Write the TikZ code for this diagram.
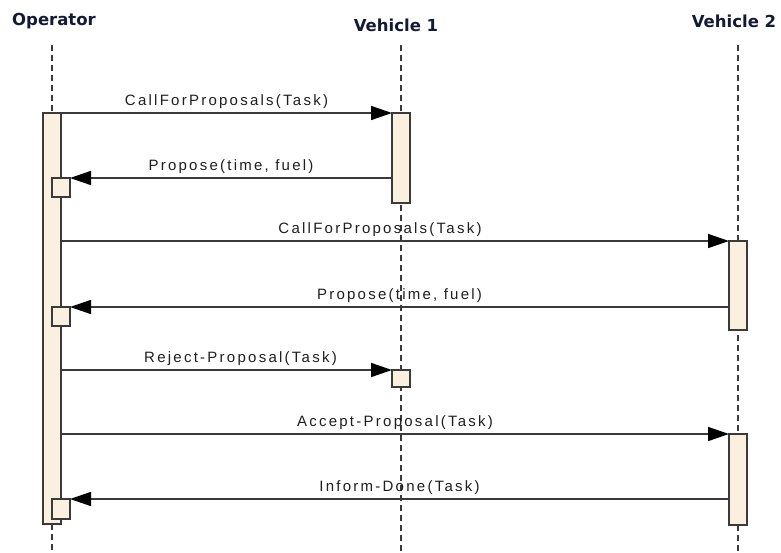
\documentclass[tikz,border=0pt]{standalone}
\usepackage{fontspec}
\usetikzlibrary{arrows.meta}
\newfontfamily\lblfont[LetterSpace=15]{Liberation Sans}
\newfontfamily\ttlfont{DejaVu Sans}
\definecolor{barfill}{HTML}{FBEFE0}
\definecolor{linecol}{HTML}{3A3A3A}
\definecolor{ttlcol}{HTML}{141A33}
\definecolor{lblcol}{HTML}{1E1E1E}
\begin{document}
\begin{tikzpicture}[x=1pt,y=-1pt,
  actbar/.style={draw=linecol, line width=1.5pt, fill=barfill, rectangle, inner sep=0pt, outer sep=0pt, anchor=north west, minimum width=18pt},
  lifeln/.style={draw=linecol, line width=1.8pt, dash pattern=on 6pt off 4pt},
  msg/.style={draw=linecol, line width=1.5pt, -{Triangle[length=21pt,width=14pt,fill=black,color=black]}},
  lbl/.style={font=\lblfont\fontsize{15}{18}\selectfont, text=lblcol, anchor=base, inner sep=0pt, yshift=8pt},
  ttl/.style={font=\ttlfont\bfseries\fontsize{16.5}{20}\selectfont, text=ttlcol, anchor=base, inner sep=0pt}]
\useasboundingbox (0,0) rectangle (781,552);
% titles
\node[ttl] (op) at (54,25) {Operator};
\node[ttl] (v1) at (396,31) {Vehicle 1};
\node[ttl] (v2) at (734,27) {Vehicle 2};
% lifeline ends
\coordinate (optop) at (52,45);
\coordinate (opbot) at (52,552);
\coordinate (v1top) at (401,45);
\coordinate (v1bot) at (401,552);
\coordinate (v2top) at (738,45);
\coordinate (v2bot) at (738,552);
\draw[lifeln] (v1top) -- (v1bot);
\draw[lifeln] (v2top) -- (v2bot);
% activation bars
\node[actbar, minimum height=411pt] (opbar) at (43,113) {};
\node[actbar, minimum height=19pt] (b1) at (52,178) {};
\node[actbar, minimum height=19pt] (b2) at (52,307) {};
\node[actbar, minimum height=20pt] (b3) at (52,499) {};
\node[actbar, minimum height=90pt] (v1bar) at (392,113) {};
\node[actbar, minimum height=17pt] (b4) at (392,370) {};
\node[actbar, minimum height=89pt] (v2a) at (729,241) {};
\node[actbar, minimum height=91pt] (v2b) at (729,434) {};
\draw[lifeln] (optop) -- (opbar.north);
\draw[lifeln] (opbar.south) -- (opbot);
% messages
\draw[msg] (opbar.north east) -- node[lbl] {CallForProposals(Task)} (v1bar.north west);
\draw[msg] (v1bar.west |- b1.north east) -- node[lbl] {Propose(time, fuel)} (b1.north east);
\draw[msg] (opbar.east |- v2a.north west) -- node[lbl, xshift=-15pt] {CallForProposals(Task)} (v2a.north west);
\draw[msg] (v2a.west |- b2.north east) -- node[lbl] {Propose(time, fuel)} (b2.north east);
\draw[msg] (opbar.east |- b4.north west) -- node[lbl, xshift=14pt] {Reject-Proposal(Task)} (b4.north west);
\draw[msg] (opbar.east |- v2b.north west) -- node[lbl] {Accept-Proposal(Task)} (v2b.north west);
\draw[msg] (v2b.west |- b3.north east) -- node[lbl] {Inform-Done(Task)} (b3.north east);
\end{tikzpicture}
\end{document}
